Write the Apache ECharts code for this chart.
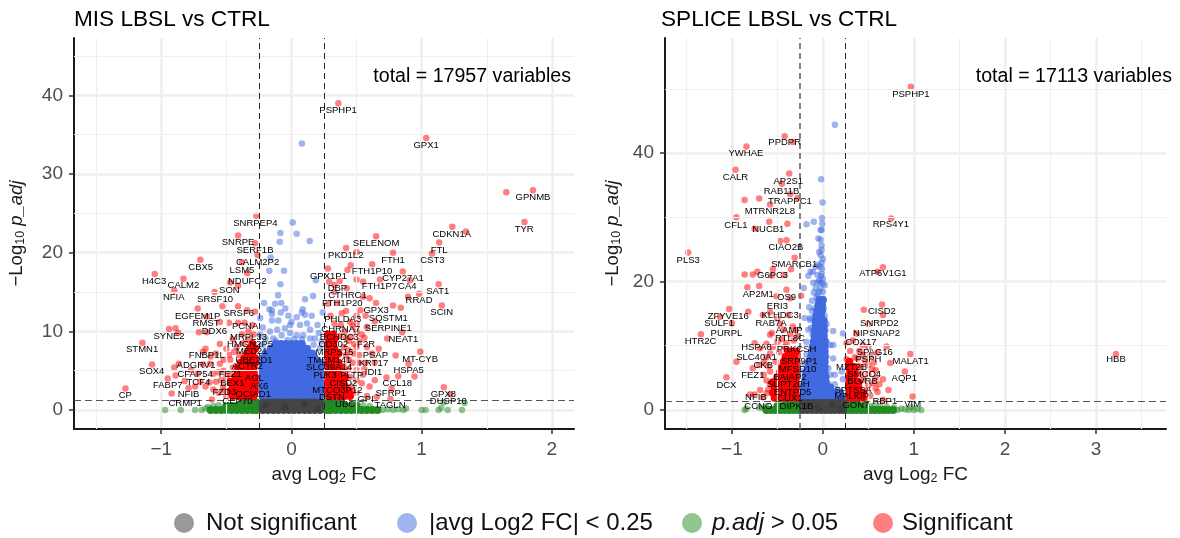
<!DOCTYPE html>
<html><head><meta charset="utf-8">
<script src="https://cdn.jsdelivr.net/npm/echarts@6/dist/echarts.min.js"></script>
<style>html,body{margin:0;background:#fff}#c{width:1180px;height:538px}</style></head>
<body><div id="c"></div>
<script>
const leftTitle='MIS LBSL vs CTRL', rightTitle='SPLICE LBSL vs CTRL';
const leftTotal='total = 17957 variables', rightTotal='total = 17113 variables';
const legendNames=['Not significant','|avg Log2 FC| < 0.25','p.adj > 0.05','Significant'];
const leftXTicks=[-1,0,1,2], leftYTicks=[0,10,20,30,40], leftXMinor=[-1.5,-0.5,0.5,1.5], leftYMinor=[5,15,25,35,45];
const rightXTicks=[-1,0,1,2,3], rightYTicks=[0,20,40], rightXMinor=[-1.5,-0.5,0.5,1.5,2.5,3.5], rightYMinor=[10,30,50];
const fcCut=[-0.25,0.25], pCut=1.3;

// MIS: dense clouds, rows of [y,[x...]]
const misGrayDense=[[0,[-.22,-.18,-.14,-.1,-.06,-.02,.02,.06,.1,.14,.18,.22]],[.5,[-.22,-.18,-.14,-.1,-.06,-.02,.02,.06,.1,.14,.18,.22]],[.95,[-.22,-.18,-.14,-.1,-.06,-.02,.02,.06,.1,.14,.18,.22]]];
const misBlueDense=[
[1.8,[-.22,-.18,-.14,-.1,-.06,-.02,.02,.06,.1,.14,.18,.22]],[2.4,[-.22,-.18,-.14,-.1,-.06,-.02,.02,.06,.1,.14,.18,.22]],
[3,[-.22,-.18,-.14,-.1,-.06,-.02,.02,.06,.1,.14,.18,.22]],[3.6,[-.22,-.18,-.14,-.1,-.06,-.02,.02,.06,.1,.14,.18,.22]],
[4.2,[-.22,-.18,-.14,-.1,-.06,-.02,.02,.06,.1,.14,.18,.22]],[4.8,[-.22,-.18,-.14,-.1,-.06,-.02,.02,.06,.1,.14,.18,.22]],
[5.4,[-.22,-.18,-.14,-.1,-.06,-.02,.02,.06,.1,.14,.18,.22]],[6,[-.22,-.18,-.14,-.1,-.06,-.02,.02,.06,.1,.14,.18,.22]],
[6.6,[-.22,-.18,-.14,-.1,-.06,-.02,.02,.06,.1,.14,.18]],[7.2,[-.2,-.16,-.12,-.08,-.04,0,.04,.08,.12,.16]],
[7.8,[-.16,-.12,-.08,-.04,0,.04,.08,.12]],[8.4,[-.12,-.08,-.04,0,.04,.08]]];
const misRedDense=[
[1.8,[-.45,-.41,-.37,-.33,-.29,.29,.33,.37,.41,.45]],[2.4,[-.47,-.43,-.39,-.35,-.31,-.28,.28,.32,.36,.4,.44]],
[3,[-.45,-.41,-.37,-.33,-.29,.29,.33,.37,.41]],[3.6,[-.47,-.43,-.39,-.35,-.31,-.28,.28,.32,.36,.4]],
[4.2,[-.43,-.39,-.35,-.31,-.28,.29,.33,.37,.41]],[4.8,[-.41,-.37,-.33,-.29,.28,.32,.36]],
[5.4,[-.41,-.37,-.33,-.29,.29,.33,.37]],[6,[-.39,-.35,-.31,-.28,.28,.32,.36]],
[6.6,[-.36,-.32,-.28,.29,.33]],[7.2,[-.34,-.3,.28,.32,.36]],[7.8,[-.32,-.28,.29,.33]],[8.4,[-.3,.28,.32]],[9,[.29,.33]],[9.6,[.28,.32]]];
const misGreenDense=[
[0,[-.62,-.58,-.54,-.5,-.46,-.42,-.38,-.34,-.3,-.27,.27,.3,.34,.38,.42,.46,.5,.54,.58,.62,.66]],
[.5,[-.5,-.46,-.42,-.38,-.34,-.3,-.27,.27,.3,.34,.38,.42,.46,.5]],[.95,[-.38,-.34,-.3,-.27,.27,.3,.34,.38]]];
// MIS: single points
const misGray=[[-.2,.6],[-.05,.3],[.1,.8],[.2,.2]];
const misBlue=[[.08,33.9],[.01,23.85],[-.085,22.5],[.04,22.4],[-.09,21.4],[.14,21.5],[-.16,19.4],[-.17,17.7],[-.057,17.7],[-.085,16],[.187,16.5],[-.103,14.6],[-.21,13.6],[.104,14.1],[.166,14.5],[-.126,13.5],[-.078,13.6],[-.17,12.8],[-.15,12.7],[-.047,12.9],[-.082,12.4],[.087,12.8],[.08,12.4],[.24,12.4],[-.024,12],[.04,11.8],[.104,12.1],[.156,12],[-.15,12.2],[-.24,11.7],[-.15,11.4],[-.1,11.4],[-.01,10.8],[-.05,10.4],[.066,10.8],[.143,9.1],[.18,9.1],[.143,10.2],[-.11,10.2],[-.165,10],[-.01,9.8],[.04,9.5],[.09,9.5],[-.075,9.5],[-.14,9.1],[-.2,9.1],[.22,7.9],[-.24,9.6],[-.22,10.5],[.2,10.8],[.12,11],[0,11.2],[.02,9],[-.03,8.9],[.08,9],[-.22,8.3],[.17,8.3],[.21,9.8],[.23,8.7],[-.12,8.8]];
const misGreen=[[-.97,0],[-.85,0],[-.74,0],[-.69,0],[-.66,.2],[-.6,.5],[-.64,.4],[-.56,.6],[.7,0],[.74,.1],[.78,0],[.82,.1],[.86,0],[.88,.2],[1,0],[1.13,0],[1.17,1],[1.2,0],[1.31,0],[1.33,.9],[1.15,.3],[1.03,0],[.6,.5],[.55,.6],[.5,.95]];
const misRed=[[.36,39],[1.035,34.6],[1.65,27.7],[1.855,27.95],[-.27,24.7],[-.41,22.2],[-.28,21.2],[-.26,19.7],[-.7,19.1],[-.38,18.8],[-.34,17.4],[-1.05,17.3],[-.83,16.7],[-.47,16.2],[-.41,15.8],[-.9,15.2],[-.59,15],[-.53,13.2],[-.72,12.9],[-.41,13.2],[-.34,12.7],[-.65,11.9],[-.41,11.1],[-.36,11.1],[-.28,12.5],[-.55,11.2],[-.48,11.1],[-.94,10.3],[-.89,10.4],[-.87,9.8],[-.71,9.9],[-.65,9.9],[-1.145,8.55],[-.66,7.8],[-.68,7.4],[-.55,8.4],[-.5,7.8],[-1.07,5.8],[-.865,5.9],[-.9,5.4],[-.77,5.1],[-.95,4],[-.89,4.4],[-.82,3.7],[-.68,5.8],[-.625,5.9],[-.55,5.9],[-.47,6.4],[-.79,2.8],[-.92,2.1],[-1.275,2.75],[-.7,3.6],[-.63,3.5],[-.58,3.6],[-.525,3],[-.61,1.35],[-.74,3],[-.45,9],[-.38,9.6],[-.33,10],[-.3,10.8],[-.42,8],[-.52,5],[-.6,4.6],[-.56,2.2],[-.5,1.8],[-.66,3],[-.48,7],[-.44,7.4],[-.4,7],[-.37,8.5],[-.33,9],[-.29,9.6],[-.52,6.4],[-.5,4.2],[-.54,3.8],[-.56,4.8],[-.6,2.6],[-.52,2.5],[-.45,5.4],[-.47,4.6],[-.58,7.2],[-.62,6.8],[-.72,4.6],
[.65,22.1],[.42,20.6],[.5,20.1],[.78,20],[1.08,19.9],[1.135,21.3],[1.235,23.3],[1.34,22.7],[1.79,23.9],[.455,18.4],[.43,17.8],[.62,18.55],[.28,18],[.855,17.6],[.29,16.3],[.33,15.9],[.37,16.4],[.5,16.6],[.55,16.3],[.68,16.6],[.91,16.5],[1.13,16],[.98,14.8],[.895,14.4],[.33,15],[.425,15.5],[.55,14.4],[.6,14.2],[.65,13.6],[.78,13.3],[.84,13],[1.155,13.3],[.53,12.7],[.386,12.3],[.5,12],[.57,12],[.64,11.3],[.735,9.1],[.85,9.9],[.56,9.2],[.5,10],[.47,10.7],[.41,10],[.67,7.8],[.5,8],[.42,7],[.8,6.95],[.99,7.4],[.64,6],[.57,6],[.5,5.1],[.64,3.8],[.73,4.15],[.82,4.3],[.945,4.25],[.9,5.9],[.77,2.75],[.76,1.4],[.5,2.2],[.655,1.7],[.46,3],[1.17,2.9],[1.22,2],[.38,1.5],[.41,5],[.44,8.8],[.38,10.8],[.46,9.3],[.52,8.7],[.4,8],[.52,7],[.47,6],[.55,4.5],[.45,4.2],[.6,3],[.54,3.4],[.58,1.8],[.33,11],[.3,12],[.28,13.5],[.35,13.6],[.37,9.4],[.42,9.2],[.48,8.4],[.44,7.6],[.48,7.2],[.54,9.6],[.58,10.6],[.45,11.2],[.42,12.6],[.5,11],[.44,6.4],[.52,6],[.5,3.8],[.56,5.2],[.47,2.4],[.58,8],[.62,7.2],[.4,5.6],[.44,5.2]];
const misLabels=[['PSPHP1',.358,38.1],['GPX1',1.034,33.67],['GPNMB',1.855,27.07],['SNRPEP4',-.277,23.7],['SNRPE',-.41,21.3],['SERF1B',-.28,20.25],['CALM2P2',-.26,18.8],['CBX5',-.697,18.1],['LSM5',-.38,17.8],['H4C3',-1.055,16.35],['NDUFC2',-.34,16.4],['CALM2',-.83,15.8],['SON',-.477,15.2],['NFIA',-.904,14.3],['SRSF10',-.587,14.05],['SRSF6',-.405,12.3],['EGFEM1P',-.72,11.95],['RMST',-.656,11.05],['PCNA',-.356,10.6],['DDX6',-.592,9.95],['SYNE2',-.94,9.35],['MRPL33',-.33,9.3],['HMGN2P5',-.318,8.4],['STMN1',-1.147,7.66],['MED21',-.305,7.4],['FNBP1L',-.65,6.95],['UBE2D1',-.287,6.35],['ADGRV1',-.733,5.7],['ACTR2',-.339,5.5],['SOX4',-1.073,4.87],['FEZ1',-.47,4.57],['CFAP54',-.74,4.53],['AGL',-.285,3.98],['TCF4',-.715,3.47],['BEX1',-.454,3.35],['FABP7',-.95,3.18],['AK6',-.247,2.96],['NFIB',-.79,1.94],['FZD3',-.515,2.2],['OCIAD1',-.293,2.03],['CP',-1.276,1.82],['CEP70',-.415,1.1],['CRMP1',-.817,.89],
['TYR',1.787,22.96],['CDKN1A',1.231,22.36],['SELENOM',.65,21.2],['FTL',1.134,20.3],['PKD1L2',.417,19.7],['CST3',1.082,18.97],['FTH1',.78,19.06],['FTH1P10',.619,17.6],['GPX1P1',.284,17],['CYP27A1',.857,16.7],['DBP',.353,15.5],['FTH1P7',.675,15.67],['CA4',.89,15.67],['SAT1',1.124,15.1],['CTHRC1',.43,14.6],['RRAD',.98,13.9],['FTH1P20',.39,13.6],['SCIN',1.154,12.4],['GPX3',.65,12.66],['SQSTM1',.744,11.6],['PHLDA3',.394,11.56],['SERPINE1',.744,10.4],['CHRNA7',.379,10.25],['ECHDC3',.368,9.3],['NEAT1',.86,9],['CD302',.322,8.35],['F2R',.573,8.35],['MRPS15',.33,7.3],['PSAP',.644,7],['MT-CYB',.988,6.4],['TMEM141',.291,6.35],['KRT17',.63,5.9],['SLC39A14',.289,5.46],['HSPA5',.9,5.04],['IDI1',.63,4.83],['PLK3',.258,4.45],['PLTP',.463,4.36],['CISD2',.399,3.43],['CCL18',.813,3.39],['MTCO3P12',.353,2.5],['SFRP1',.763,2.12],['GPX8',1.167,2.03],['DUSP10',1.205,1.05],['DSTN',.31,1.6],['GPI',.57,1.36],['UBC',.412,.72],['TAGLN',.757,.55]];

// SPLICE: dense clouds
const splGrayDense=[[0,[-.22,-.17,-.12,-.07,-.02,.03,.08,.13,.18,.22]],[.5,[-.22,-.17,-.12,-.07,-.02,.03,.08,.13,.18,.22]],[1.1,[-.22,-.17,-.12,-.07,-.02,.03,.08,.13,.18,.22]]];
const splBlueDense=[
[1.9,[-.21,-.16,-.11,-.06,-.01,.04,.09,.14,.19,.21]],[2.7,[-.21,-.16,-.11,-.06,-.01,.04,.09,.14,.19]],[3.5,[-.21,-.16,-.11,-.06,-.01,.04,.08]],
[4.3,[-.2,-.15,-.1,-.05,0,.03]],[5.1,[-.19,-.14,-.09,-.04,.01,.03]],[5.9,[-.18,-.13,-.08,-.03,.02]],[6.7,[-.16,-.11,-.06,-.01,.02]],
[7.5,[-.15,-.1,-.05,0,.02]],[8.3,[-.13,-.08,-.03,.02]],[9.1,[-.12,-.07,-.02,.02]],[9.9,[-.11,-.06,-.01,.02]],[10.7,[-.1,-.05,0,.02]],
[11.5,[-.09,-.04,.01]],[12.3,[-.09,-.04,.01]],[13.1,[-.08,-.03,.01]],[13.9,[-.08,-.03,.01]],[14.7,[-.07,-.02]],[15.5,[-.06,-.01]],[16.3,[-.05,-.01]],[17.1,[-.04,0]]];
const splRedDense=[
[1.9,[-.53,-.48,-.43,-.38,-.33,-.29,.29,.34,.39,.44]],[2.7,[-.55,-.5,-.45,-.4,-.35,-.3,.29,.34,.39,.44]],[3.5,[-.53,-.48,-.43,-.38,-.33,-.29,.29,.34,.39]],
[4.3,[-.55,-.5,-.45,-.4,-.35,-.3,.29,.34,.39]],[5.1,[-.5,-.45,-.4,-.35,-.29,.29,.34]],[5.9,[-.47,-.42,-.37,-.32,-.29,.3,.35]],
[6.7,[-.45,-.4,-.35,-.3,.29,.34]],[7.5,[-.43,-.38,-.33,-.29,.29]],[8.3,[-.41,-.36,-.31]],[9.1,[-.38,-.33,-.29]]];
const splGreenDense=[
[0,[-.62,-.57,-.52,-.47,-.42,-.37,-.32,-.27,.27,.32,.37,.42,.47,.52,.57,.62,.67,.72,.77]],
[.6,[-.5,-.45,-.4,-.35,-.3,-.27,.27,.32,.37,.42,.47]],[1.1,[-.4,-.35,-.3,-.27,.27,.32,.37]]];
// SPLICE: single points
const splGray=[[-.2,.6],[-.05,.3],[.1,.8],[.2,.2]];
const splBlue=[[.132,44.4],[-.02,35.9],[-.003,32.3],[-.01,29.9],[-.007,29],[-.1,29.3],[-.18,28.9],[-.025,28],[-.015,28],[-.05,26.7],[-.025,26.5],[-.015,25.6],[-.015,24.9],[-.025,24.1],[0,23.5],[-.015,22.9],[-.077,22.3],[-.03,22.3],[-.135,21.5],[-.11,21.5],[-.16,20.9],[-.015,21.2],[0,20.4],[-.106,19.8],[-.06,19.9],[-.03,19.8],[0,19.7],[.02,19.4],[-.21,19],[-.1,18.3],[-.03,18.9],[0,18.4],[-.055,18],[0,17.3],[-.05,17],[-.005,16.5],[-.088,15.8],[-.03,16.2],[.01,15.8],[-.14,14.3],[.02,14.7],[-.088,14.6],[.113,12.3],[.22,11.9],[.08,10.1],[.113,10.1],[.04,10.6],[-.2,14.3],[-.14,14],[-.16,12.5],[-.18,10.6],[-.115,11.7],[.113,8],[.205,6],[.13,5.5],[.08,5.5],[.06,4.1],[.13,4],[.16,3.2],[.22,4.8],[.09,2.7],[.04,8.3],[.06,6.5],[-.18,8.6],[-.2,7.2],[-.23,6],[-.05,22.6],[-.06,21],[-.02,20.8],[-.04,20.2],[-.08,19],[-.01,22],[-.04,24.6],[-.04,18.4],[-.07,17.6],[-.12,17],[-.12,15.4],[-.15,16],[.04,13.4],[-.13,12.8],[.03,12.4]];
const splGreen=[[-.86,0],[-.84,.2],[-.7,.4],[-.66,.3],[-.62,.5],[.82,0],[.78,.4],[.86,.2],[.9,.1],[.94,0],[.97,.4],[1,0],[1.04,.2],[1.08,0],[.7,.5],[.63,.6],[.57,.7],[.52,.6]];
const splRed=[[.967,50.3],[3.22,8.7],[-.42,42.6],[-.33,41.7],[-.84,41],[-.96,37.4],[-.37,36.8],[-.45,35.2],[-.36,33.6],[-.86,32.7],[-.7,32.9],[-.58,32],[-.28,33],[-.95,30],[-.59,29.3],[-.39,29],[-.75,28.2],[-.47,26.3],[-.4,26.4],[-1.48,24.5],[-.31,23.7],[-.35,21.9],[-.55,21.9],[-.72,21.5],[-.86,21.1],[-.77,21.1],[-.43,21],[-.56,20.9],[.75,29.8],[.66,22.2],[.6,21.5],
[-.83,19.1],[-.7,19.3],[-.4,18.7],[-.24,17.8],[-.51,17.7],[-.36,17.4],[-1.03,15.7],[-1.13,14.5],[-1,13.5],[-1.34,11.8],[-.82,15.3],[-.58,15.2],[-.66,14.8],[-.5,14.2],[-.38,14.8],[-.47,13.4],[-.33,13],[-.43,12.5],[-.56,12],[-.58,11.7],[-.69,9.6],[-.75,10.4],[-.95,7.5],[-1.06,5.1],[-.77,6.5],[-.7,7],[-.62,8.2],[-.55,9.8],[-.62,10.3],[-.69,3.1],[-.75,2.4],[-.62,4.6],[-.58,6],[-.8,2.4],[-.52,7.5],[-.48,9],[-.4,10.4],[-.32,10.8],[-.28,11.5],[-.5,10.6],[-.6,6.8],[-.65,5.5],[-.66,2],[-.45,11],[-.36,11.8],[-.3,12.4],[-.42,9.8],[-.58,8.8],[-.65,7.4],[-.6,3.2],[-.58,4],[-.62,2.6],
[.45,15.6],[.65,16.4],[.66,14.8],[.5,13.4],[.37,11.9],[.26,10.4],[.44,10.1],[.5,9.8],[.7,9.9],[.6,8.9],[.96,8.7],[.74,7.3],[.9,6],[.66,4.8],[.72,3.1],[.985,2.1],[.66,1.6],[.6,2.8],[.5,3.8],[.45,4.7],[.5,5.6],[.58,6.2],[.39,6.9],[.46,7.7],[.35,8.2],[.3,9.2],[.26,7.9],[.42,5.5],[.52,2.2],[.55,4.2],[.47,1.7],[.62,4],[.56,7.4],[.4,9.2],[.33,10.8],[.42,6.6],[.5,7],[.54,6.4],[.44,8.6],[.52,8.4],[.58,3.4],[.48,3],[.38,8],[.58,5]];
const splLabels=[['PSPHP1',.967,49.2],['PPDPR',-.42,41.6],['YWHAE',-.846,39.9],['CALR',-.96,36.2],['AP2S1',-.38,35.6],['RAB11B',-.454,34.1],['TRAPPC1',-.363,32.5],['MTRNR2L8',-.582,30.9],['CFL1',-.956,28.8],['NUCB1',-.6,28.1],['CIAO2B',-.407,25.3],['PLS3',-1.48,23.3],['SMARCB1',-.315,22.6],['G6PC3',-.553,20.9],['RPS4Y1',.747,28.9],['ATP6V1G1',.66,21.2],['AP2M1',-.71,18.07],['OS9',-.4,17.55],['ERI3',-.5,16.2],['CISD2',.648,15.3],['ZFYVE16',-1.04,14.64],['KLHDC3',-.47,14.8],['SULF1',-1.14,13.44],['RAB7A',-.57,13.55],['SNRPD2',.62,13.44],['AAMP',-.37,12.4],['PURPL',-1.06,11.95],['NIPSNAP2',.59,11.95],['RTL8C',-.363,11.1],['HTR2C',-1.344,10.7],['COX17',.418,10.55],['HSPA8',-.73,9.8],['PRKCSH',-.29,9.5],['SPAG16',.57,9.03],['SLC40A1',-.73,8.2],['PSPH',.5,7.9],['SRP9P1',-.26,7.63],['MALAT1',.964,7.63],['CKB',-.656,7],['MZT2B',.315,6.65],['MFSD10',-.278,6.33],['SMCO4',.454,5.6],['FEZ1',-.77,5.4],['BAIAP2',-.363,5.14],['AQP1',.894,4.88],['BLVRB',.436,4.5],['SUPT20H',-.38,3.94],['DCX',-1.06,3.84],['SPTSSA',.333,3.1],['ENTPD5',-.333,2.8],['MPLKIP',.315,2.08],['NFIB',-.736,1.92],['CUX1',-.363,1.82],['RBP1',.68,1.4],['VIM',.986,.89],['CCNO',-.71,.62],['DIPK1B',-.29,.62],['GON7',.363,.78],['HBB',3.22,7.8]];

const INK='#000', TICK='#4d4d4d', GRID='#efefef';
const expand=rows=>rows.flatMap(([y,xs])=>xs.map(x=>[x,y]));
const COL={gray:'rgba(51,51,51,.5)',blue:'rgba(65,105,225,.5)',green:'rgba(34,139,34,.5)',red:'rgba(255,0,0,.5)'};
const SOLID={gray:'#444444',blue:'#4169e1',green:'#228b22',red:'#ff0000'};
const PT=6.5, DENSE=8;

function panelSeries(i,d){
  const base={type:'scatter',xAxisIndex:i,yAxisIndex:i,silent:true,animation:false};
  const dense=(key,rows,z)=>({...base,name:key+'-dense-'+i,data:expand(rows),symbolSize:DENSE,z,itemStyle:{color:SOLID[key],opacity:1}});
  const pts=(name,key,data,z)=>({...base,name,data,symbolSize:PT,z,itemStyle:{color:COL[key],opacity:1}});
  return [
    {...base,name:'minor-'+i,data:[],z:1,markLine:{silent:true,symbol:'none',label:{show:false},animation:false,
      lineStyle:{color:GRID,width:1.2,type:'solid'},
      data:[...d.xMinor.map(v=>({xAxis:v})),...d.yMinor.map(v=>({yAxis:v}))]}},
    dense('green',d.greenDense,3), pts(legendNames[2],'green',d.green,3),
    dense('red',d.redDense,4), pts(legendNames[3],'red',d.red,4),
    dense('blue',d.blueDense,5), pts(legendNames[1],'blue',d.blue,5),
    dense('gray',d.grayDense,6), pts(legendNames[0],'gray',d.gray,6),
    {...base,name:'guides-'+i,data:[],z:7,markLine:{silent:true,symbol:'none',label:{show:false},animation:false,
      lineStyle:{color:'#222',width:1,type:[6,4]},
      data:[{xAxis:fcCut[0],lineStyle:i?{color:'#777',width:1.8,type:[6,4]}:undefined},{xAxis:fcCut[1]},
            {yAxis:pCut,lineStyle:{color:'#555',width:1.2,type:[7,4]}}]}},
    {...base,name:'labels-'+i,symbolSize:1,z:8,itemStyle:{color:'rgba(0,0,0,0)',opacity:1},
      data:d.labels.map(([n,x,y])=>[x,y,n]),
      label:{show:true,position:'inside',formatter:p=>p.value[2],color:'#000',fontSize:9.5,fontFamily:'Liberation Sans'}}
  ];
}
const fmt=v=>String(v).replace('-','\u2212');
function xAxis(i,min,max,ticks){return {gridIndex:i,type:'value',min,max,
  axisLine:{onZero:false,lineStyle:{color:'#1a1a1a',width:2}},
  axisTick:{length:5,customValues:ticks,lineStyle:{color:'#333',width:1.5}},
  axisLabel:{customValues:ticks,formatter:fmt,color:TICK,fontSize:19,margin:11,fontFamily:'Liberation Sans'},
  splitLine:{show:true,lineStyle:{color:GRID,width:2.5}},
  name:'{t|avg Log}{s|2}{t| FC}',nameLocation:'middle',nameGap:36,
  nameTextStyle:{rich:{t:{fontSize:19,color:'#1a1a1a',fontFamily:'Liberation Sans'},s:{fontSize:12.5,color:'#1a1a1a',fontFamily:'Liberation Sans',padding:[7,0,0,0]}}}};}
function yAxis(i,min,max,ticks){return {gridIndex:i,type:'value',min,max,
  axisLine:{onZero:false,show:true,lineStyle:{color:'#1a1a1a',width:2}},
  axisTick:{show:true,length:5,customValues:ticks,lineStyle:{color:'#333',width:1.5}},
  axisLabel:{customValues:ticks,formatter:fmt,color:TICK,fontSize:19,margin:11,fontFamily:'Liberation Sans'},
  splitLine:{show:true,lineStyle:{color:GRID,width:2.5}},
  name:'{t|\u2212Log}{s|10}{i| p_adj}',nameLocation:'middle',nameGap:i===0?47:42,
  nameTextStyle:{rich:{t:{fontSize:18.5,color:'#1a1a1a',fontFamily:'Liberation Sans'},i:{fontSize:18.5,fontStyle:'italic',color:'#1a1a1a',fontFamily:'Liberation Sans'},s:{fontSize:12.5,color:'#1a1a1a',fontFamily:'Liberation Sans',padding:[7,0,0,0]}}}};}

const legendLeft=[174,397,682,873], legendPad=[7,7,5,4];
const option={animation:false,backgroundColor:'#fff',
  title:[
    {text:leftTitle,left:74,top:8,padding:0,textStyle:{fontSize:22.6,fontWeight:'normal',color:INK,fontFamily:'Liberation Sans'}},
    {text:rightTitle,left:661,top:8,padding:0,textStyle:{fontSize:22.6,fontWeight:'normal',color:INK,fontFamily:'Liberation Sans'}}],
  grid:[{left:74,top:38,width:500,height:391},{left:665,top:38,width:501,height:391}],
  xAxis:[xAxis(0,-1.67,2.17,leftXTicks),xAxis(1,-1.735,3.77,rightXTicks)],
  yAxis:[yAxis(0,-2.41,47.3,leftYTicks),yAxis(1,-2.96,57.9,rightYTicks)],
  legend:legendNames.map((n,i)=>({data:[n],left:legendLeft[i],top:511,orient:'horizontal',selectedMode:false,
    icon:'circle',itemWidth:20,itemHeight:21,itemGap:0,padding:0,
    formatter:i===2?'{i|p.adj} > 0.05':undefined,
    textStyle:{fontSize:24,color:'#111',fontFamily:'Liberation Sans',padding:[0,0,0,legendPad[i]],rich:{i:{fontSize:24,fontStyle:'italic',color:'#111',fontFamily:'Liberation Sans'}}}})),
  graphic:[
    {type:'text',right:609,top:67,z:20,style:{text:leftTotal,fontSize:19.6,fill:INK,fontFamily:'Liberation Sans'}},
    {type:'text',right:8,top:67,z:20,style:{text:rightTotal,fontSize:19.6,fill:INK,fontFamily:'Liberation Sans'}}],
  series:[
    ...panelSeries(0,{xMinor:leftXMinor,yMinor:leftYMinor,grayDense:misGrayDense,blueDense:misBlueDense,redDense:misRedDense,greenDense:misGreenDense,gray:misGray,blue:misBlue,green:misGreen,red:misRed,labels:misLabels}),
    ...panelSeries(1,{xMinor:rightXMinor,yMinor:rightYMinor,grayDense:splGrayDense,blueDense:splBlueDense,redDense:splRedDense,greenDense:splGreenDense,gray:splGray,blue:splBlue,green:splGreen,red:splRed,labels:splLabels})
  ]};
echarts.init(document.getElementById('c')).setOption(option);
</script></body></html>
